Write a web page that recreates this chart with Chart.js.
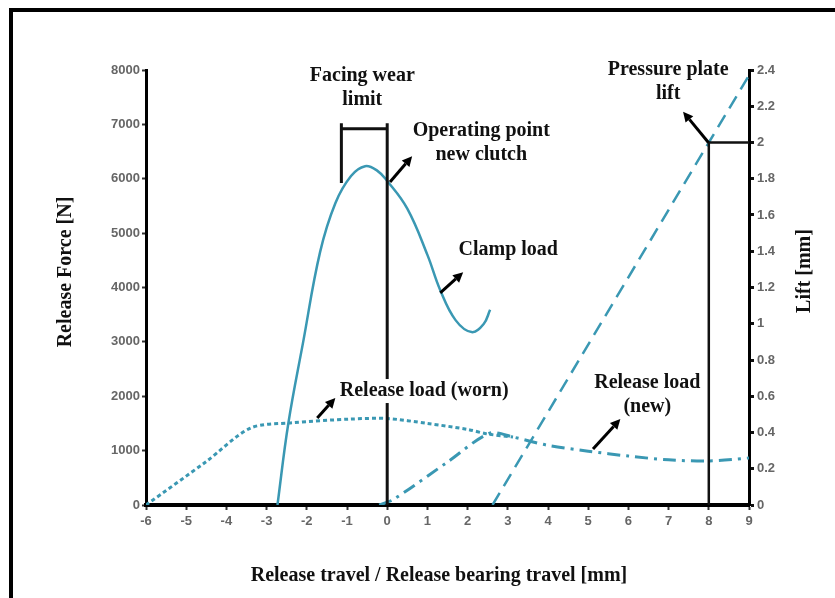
<!DOCTYPE html>
<html>
<head>
<meta charset="utf-8">
<script src="https://cdn.jsdelivr.net/npm/chart.js@4.4.1/dist/chart.umd.min.js"></script>
<style>
  html, body { margin: 0; padding: 0; background: #fff; }
  #wrap { position: relative; width: 835px; height: 598px; }
</style>
</head>
<body>
<div id="wrap"><canvas id="chartRelease" width="835" height="598"></canvas></div>
<script>
/* ---------- values ---------- */
const clampTravel = [-2.73, -2.46, -2.09, -1.67, -1.29, -0.9, -0.55, -0.25, 0, 0.5, 1.0, 1.32, 1.7, 2.1, 2.4, 2.56];
const clampLoad   = [0, 1500, 3000, 4650, 5550, 6050, 6230, 6150, 5960, 5450, 4600, 3950, 3400, 3180, 3330, 3590];

const wornTravel = [-6, -4.5, -3.4, -2.41, -0.92, 0, 1, 2, 2.5, 3.13];
const wornLoad   = [0, 800, 1415, 1510, 1580, 1590, 1500, 1390, 1305, 1250];

const newTravel = [-0.2, 0.15, 1.5, 2.55, 3.13, 3.98, 5.0, 6.0, 7.0, 8.0, 9.0];
const newLoad   = [0, 100, 790, 1320, 1250, 1100, 990, 900, 830, 810, 865];

const liftTravel = [2.62, 8, 9];
const liftMm     = [0, 2.0, 2.37];

const forceTicks = [0, 1000, 2000, 3000, 4000, 5000, 6000, 7000, 8000];
const liftTicks  = [0, 0.2, 0.4, 0.6, 0.8, 1, 1.2, 1.4, 1.6, 1.8, 2, 2.2, 2.4];

/* annotation text, anchored in data units (x travel, y force) */
const notes = [
    { lines: ["Facing wear", "limit"],          x: -0.62, y: 7900 },
    { lines: ["Operating point", "new clutch"], x: 2.34,  y: 6890 },
    { lines: ["Clamp load"],                    x: 3.01,  y: 4690 },
    { lines: ["Release load (worn)"],           x: 0.92,  y: 2096, clear: true },
    { lines: ["Release load", "(new)"],         x: 6.47,  y: 2243 },
    { lines: ["Pressure plate", "lift"],        x: 6.99,  y: 7996 }
];

/* arrows: from -> to, in data units */
const arrows = [
    { axis: "y",  from: [0.07, 5940],  to: [0.62, 6415] },
    { axis: "y",  from: [1.32, 3900],  to: [1.89, 4280] },
    { axis: "y",  from: [-1.74, 1600], to: [-1.29, 1970] },
    { axis: "y",  from: [5.12, 1030],  to: [5.80, 1580] },
    { axis: "y1", from: [7.99, 2.0],   to: [7.36, 2.17] }
];

const TEAL = "#3a98b3";
const SERIF = "'Liberation Serif', 'Times New Roman', serif";
const TICKFONT = "'Liberation Sans Narrow', 'Liberation Sans', sans-serif";
const LABEL_FONT = "bold 20px " + SERIF;

function pts(xs, ys) {
    return xs.map((x, i) => ({ x: x, y: ys[i] }));
}

function drawRotated(ctx, text, x, y) {
    ctx.save();
    ctx.translate(x, y);
    ctx.rotate(-Math.PI / 2);
    ctx.fillText(text, 0, 0);
    ctx.restore();
}

/* ---------- drawing extras: frame, bracket lines, arrows, labels ---------- */
const extrasPlugin = {
    id: "extras",
    afterDatasetsDraw(chart) {
        const ctx = chart.ctx;
        const sx = chart.scales.x, sy = chart.scales.y, sy1 = chart.scales.y1;
        const X = v => sx.getPixelForValue(v);
        const Y = v => sy.getPixelForValue(v);
        const Y1 = v => sy1.getPixelForValue(v);

        ctx.save();
        ctx.strokeStyle = "#111";
        ctx.lineCap = "butt";

        // facing wear limit bracket
        ctx.lineWidth = 3;
        ctx.beginPath();
        ctx.moveTo(X(-1.14), Y(5920)); ctx.lineTo(X(-1.14), Y(7020));
        ctx.moveTo(X(0), Y(7020));     ctx.lineTo(X(0), Y(0));
        ctx.moveTo(X(-1.14), Y(6920)); ctx.lineTo(X(0), Y(6920));
        ctx.stroke();

        // pressure plate lift marker at 8 mm / 2 mm
        ctx.lineWidth = 2.5;
        ctx.beginPath();
        ctx.moveTo(X(8), Y1(0)); ctx.lineTo(X(8), Y1(2));
        ctx.lineTo(X(9), Y1(2));
        ctx.stroke();

        // arrows
        ctx.fillStyle = "#000";
        ctx.strokeStyle = "#000";
        arrows.forEach(a => {
            const yf = a.axis === "y1" ? Y1 : Y;
            const x0 = X(a.from[0]), y0 = yf(a.from[1]);
            const x1 = X(a.to[0]),   y1 = yf(a.to[1]);
            const ang = Math.atan2(y1 - y0, x1 - x0);
            const head = 10, half = 5;
            const bx = x1 - head * Math.cos(ang), by = y1 - head * Math.sin(ang);
            ctx.lineWidth = 3;
            ctx.beginPath();
            ctx.moveTo(x0, y0); ctx.lineTo(bx, by);
            ctx.stroke();
            ctx.beginPath();
            ctx.moveTo(x1, y1);
            ctx.lineTo(bx + half * Math.sin(ang), by - half * Math.cos(ang));
            ctx.lineTo(bx - half * Math.sin(ang), by + half * Math.cos(ang));
            ctx.closePath();
            ctx.fill();
        });

        // labels
        ctx.font = LABEL_FONT;
        ctx.textAlign = "center";
        ctx.textBaseline = "middle";
        notes.forEach(n => {
            const cx = X(n.x), cy = Y(n.y);
            n.lines.forEach((t, i) => {
                const ty = cy + i * 24;
                if (n.clear) {
                    const w = ctx.measureText(t).width;
                    ctx.fillStyle = "#fff";
                    ctx.fillRect(cx - w / 2 - 2, ty - 12, w + 4, 24);
                }
                ctx.fillStyle = "#111";
                ctx.fillText(t, cx, ty);
            });
        });

        // axis titles
        ctx.fillStyle = "#111";
        drawRotated(ctx, "Release Force [N]", 66, 272);
        drawRotated(ctx, "Lift [mm]", 805, 271);
        ctx.fillText("Release travel / Release bearing travel [mm]", 439, 576);

        // picture frame (top and left edges)
        ctx.fillStyle = "#000";
        ctx.fillRect(9, 8, 826, 4);
        ctx.fillRect(9, 8, 4, 590);
        ctx.restore();
    }
};

const tickFont = { family: TICKFONT, size: 13, weight: "bold" };

new Chart(document.getElementById("chartRelease"), {
    type: "scatter",
    data: {
        datasets: [
            {
                label: "Clamp load",
                data: pts(clampTravel, clampLoad),
                yAxisID: "y",
                showLine: true,
                borderColor: TEAL,
                borderWidth: 2.5,
                pointRadius: 0,
                tension: 0.4
            },
            {
                label: "Release load (worn)",
                data: pts(wornTravel, wornLoad),
                yAxisID: "y",
                showLine: true,
                borderColor: TEAL,
                borderWidth: 3,
                borderDash: [4, 3],
                pointRadius: 0,
                tension: 0.3
            },
            {
                label: "Release load (new)",
                data: pts(newTravel, newLoad),
                yAxisID: "y",
                showLine: true,
                borderColor: TEAL,
                borderWidth: 3,
                borderDash: [13, 6, 3, 6],
                pointRadius: 0,
                tension: 0.3
            },
            {
                label: "Pressure plate lift",
                data: pts(liftTravel, liftMm),
                yAxisID: "y1",
                showLine: true,
                borderColor: TEAL,
                borderWidth: 2.5,
                borderDash: [14, 8],
                pointRadius: 0
            }
        ]
    },
    options: {
        responsive: false,
        animation: false,
        devicePixelRatio: 1,
        layout: { padding: { top: 70, left: 0, right: 0, bottom: 0 } },
        plugins: {
            legend: { display: false },
            tooltip: { enabled: false }
        },
        scales: {
            x: {
                type: "linear",
                min: -6,
                max: 9,
                afterFit: s => { s.height = 93; },
                border: { display: true, color: "#000", width: 4 },
                grid: { drawOnChartArea: false, drawTicks: true, tickLength: 5, tickColor: "#333", tickWidth: 2 },
                ticks: { stepSize: 1, color: "#666", font: tickFont, padding: 4, maxRotation: 0, autoSkip: false },
                title: { display: false }
            },
            y: {
                position: "left",
                min: 0,
                max: 8000,
                afterFit: s => { s.width = 146; },
                afterBuildTicks: s => { s.ticks = forceTicks.map(v => ({ value: v })); },
                border: { display: true, color: "#000", width: 3 },
                grid: { drawOnChartArea: false, drawTicks: true, tickLength: 4, tickColor: "#333", tickWidth: 2 },
                ticks: { color: "#666", font: tickFont, padding: 2, callback: v => String(v) },
                title: { display: false }
            },
            y1: {
                position: "right",
                min: 0,
                max: 2.4,
                afterFit: s => { s.width = 86; },
                afterBuildTicks: s => { s.ticks = liftTicks.map(v => ({ value: v })); },
                border: { display: true, color: "#000", width: 3 },
                grid: { drawOnChartArea: false, drawTicks: true, tickLength: 5, tickColor: "#111", tickWidth: 3 },
                ticks: { color: "#666", font: tickFont, padding: 3, callback: v => String(Number(v.toFixed(1))) }
            }
        }
    },
    plugins: [extrasPlugin]
});
</script>
</body>
</html>
